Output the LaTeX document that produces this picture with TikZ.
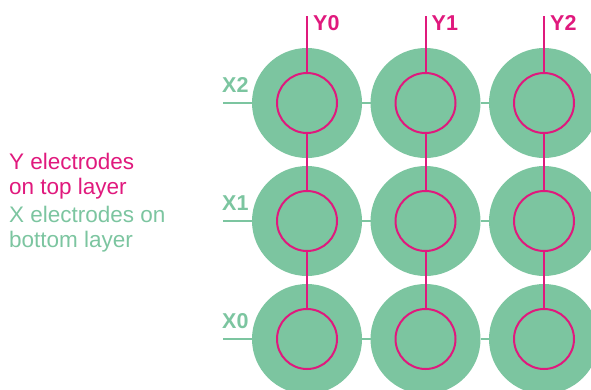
\documentclass[tikz,border=0pt]{standalone}
\usepackage{fontspec}
\setmainfont{Liberation Sans}
\definecolor{elgreen}{HTML}{7CC5A0}
\definecolor{elmag}{HTML}{E0197D}
\begin{document}
\begin{tikzpicture}[x=1pt,y=-1pt,
  outerpad/.style={circle,fill=elgreen,minimum size=110pt,inner sep=0pt,outer sep=0pt},
  innerpad/.style={circle,draw=elmag,line width=2pt,minimum size=60pt,inner sep=0pt,outer sep=0pt},
  yline/.style={draw=elmag,line width=2pt},
  xline/.style={draw=elgreen,line width=2pt},
  ylab/.style={text=elmag,font=\fontsize{21.5}{24}\selectfont\bfseries,anchor=base west,inner sep=0pt},
  xlab/.style={text=elgreen,font=\fontsize{21.5}{24}\selectfont\bfseries,anchor=base west,inner sep=0pt},
  legend/.style={font=\fontsize{22.5}{25}\selectfont,anchor=base west,inner sep=0pt,align=left}]
\useasboundingbox (0,0) rectangle (591,389);
% pads
\foreach \i/\x in {0/307,1/425.5,2/544}{
  \foreach \j/\y in {2/103,1/221,0/339}{
    \node[outerpad] (c\i\j) at (\x,\y) {};
  }
}
% X lines
\foreach \j/\y in {2/103,1/221,0/339}{
  \coordinate (xl\j) at (223,\y);
  \draw[xline] (xl\j) -- (c0\j.west);
  \draw[xline] (c0\j.east) -- (c1\j.west);
  \draw[xline] (c1\j.east) -- (c2\j.west);
  \node[xlab] (xt\j) at (222,\y-11) {X\j};
}
% inner circles
\foreach \i/\x in {0/307,1/425.5,2/544}{
  \foreach \j/\y in {2/103,1/221,0/339}{
    \node[innerpad] (n\i\j) at (\x,\y) {};
  }
  \coordinate (yt\i) at (\x,16);
  \draw[yline] (yt\i) -- (n\i2.north);
  \draw[yline] (n\i2.south) -- (n\i1.north);
  \draw[yline] (n\i1.south) -- (n\i0.north);
  \node[ylab] (ytx\i) at (\x+6,30) {Y\i};
}
% legend
\node[legend,text=elmag] (ly1) at (9,169) {Y electrodes};
\node[legend,text=elmag] (ly2) at (9,194) {on top layer};
\node[legend,text=elgreen] (lx1) at (9,222) {X electrodes on};
\node[legend,text=elgreen] (lx2) at (9,247) {bottom layer};
\end{tikzpicture}
\end{document}
